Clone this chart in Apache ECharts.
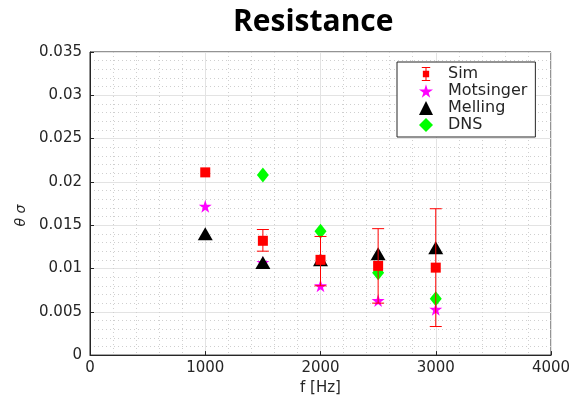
<!DOCTYPE html>
<html>
<head>
<meta charset="utf-8">
<script src="https://cdn.jsdelivr.net/npm/echarts@6/dist/echarts.min.js"></script>
<style>
  html, body { margin: 0; padding: 0; background: #fff; }
  #main { width: 574px; height: 401px; }
</style>
</head>
<body>
<div id="main"></div>
<script>
// data
var freq = [1000, 1500, 2000, 2500, 3000];
var simVals = [0.0211, 0.0132, 0.0110, 0.0103, 0.0101];
var simLow = [0.0211, 0.0120, 0.0080, 0.0060, 0.0033];
var simHigh = [0.0211, 0.0145, 0.0137, 0.0146, 0.0169];
var motsVals = [0.0172, 0.0107, 0.0080, 0.0063, 0.0053];
var mellVals = [0.0140, 0.0107, 0.0110, 0.0117, 0.0124];
var dnsVals = [null, 0.0208, 0.0143, 0.0095, 0.0065];

var starPath = 'path://M50,0 L61,35 L98,35 L68,57 L79,91 L50,70 L21,91 L32,57 L2,35 L39,35 Z';
var simIcon = 'path://M0,0 h12 v1.5 h-12 Z M5.25,0 h1.5 v20 h-1.5 Z M0,18.5 h12 v1.5 h-12 Z M1.5,5.5 h9 v9 h-9 Z';
var font = 'DejaVu Sans';
var axisColor = '#262626';

function pairs(vals) {
  let out = []
  vals.forEach((v, i) => {
    if (v != null) out.push([freq[i], v])
  })
  return out
}

// error bars
let errData = freq.map((f, i) => [f, simLow[i], simHigh[i]]);

function renderErr(params, api) {
  let x = api.value(0)
  let lo = api.coord([x, api.value(1)])
  let hi = api.coord([x, api.value(2)])
  if (Math.abs(hi[1] - lo[1]) < 1) return null
  let w = 6
  let st = { stroke: '#ff0000', lineWidth: 1 }
  return {
    type: 'group',
    children: [
      { type: 'line', shape: { x1: lo[0], y1: lo[1], x2: hi[0], y2: hi[1] }, style: st },
      { type: 'line', shape: { x1: lo[0] - w, y1: lo[1], x2: lo[0] + w, y2: lo[1] }, style: st },
      { type: 'line', shape: { x1: hi[0] - w, y1: hi[1], x2: hi[0] + w, y2: hi[1] }, style: st }
    ]
  }
}

var chart = echarts.init(document.getElementById('main'), null, { renderer: 'canvas' });

var option = {
  animation: false,
  backgroundColor: '#fff',
  title: {
    text: 'Resistance',
    left: 228,
    top: 2,
    textStyle: { fontFamily: 'Open Sans', fontWeight: 'bold', fontSize: 30, color: '#000' }
  },
  grid: {
    left: 90, right: 23, top: 52, bottom: 42,
    show: true, borderColor: axisColor, borderWidth: 1, backgroundColor: '#fff'
  },
  legend: {
    orient: 'vertical',
    left: 397, top: 62,
    width: 140,
    padding: [4, 8, 4, 22],
    itemGap: 1,
    itemWidth: 14, itemHeight: 14,
    borderColor: axisColor, borderWidth: 1,
    backgroundColor: '#fff',
    textStyle: { fontFamily: font, fontSize: 16, color: axisColor, padding: [0, 0, 0, 10] },
    data: [
      { name: 'Sim', icon: simIcon, itemStyle: { color: '#ff0000' } },
      { name: 'Motsinger', icon: starPath },
      { name: 'Melling', icon: 'triangle' },
      { name: 'DNS', icon: 'diamond' }
    ]
  },
  xAxis: {
    type: 'value',
    min: 0, max: 4000, interval: 1000,
    name: 'f [Hz]',
    nameLocation: 'middle',
    nameGap: 25,
    nameTextStyle: { fontFamily: font, fontSize: 15, color: axisColor },
    axisLine: { onZero: false, lineStyle: { color: axisColor } },
    axisTick: { inside: true, length: 4, lineStyle: { color: axisColor } },
    axisLabel: { fontFamily: font, fontSize: 15, color: axisColor, margin: 6, formatter: v => String(v) },
    splitLine: { show: true, lineStyle: { color: '#e3e3e3', width: 1 } },
    minorTick: { show: false, splitNumber: 5 },
    minorSplitLine: { show: true, lineStyle: { color: '#cfcfcf', type: [1, 3], width: 1 } }
  },
  yAxis: {
    type: 'value',
    min: 0, max: 0.035, interval: 0.005,
    name: 'θ σ',
    nameLocation: 'middle',
    nameGap: 50,
    nameRotate: 90,
    nameTextStyle: { fontFamily: font, fontStyle: 'italic', fontSize: 14, color: axisColor, padding: [0, 24, 0, 0] },
    axisLine: { onZero: false, lineStyle: { color: axisColor } },
    axisTick: { inside: true, length: 4, lineStyle: { color: axisColor } },
    axisLabel: {
      fontFamily: font, fontSize: 15, color: axisColor, margin: 8,
      formatter: v => String(parseFloat(v.toFixed(4)))
    },
    splitLine: { show: true, lineStyle: { color: '#e3e3e3', width: 1 } },
    minorTick: { show: false, splitNumber: 5 },
    minorSplitLine: { show: true, lineStyle: { color: '#cfcfcf', type: [1, 3], width: 1 } }
  },
  series: [
    {
      name: 'Motsinger',
      type: 'scatter',
      symbol: starPath,
      symbolSize: 13,
      itemStyle: { color: '#ff00ff', opacity: 1 },
      data: pairs(motsVals),
      z: 3
    },
    {
      name: 'Melling',
      type: 'scatter',
      symbol: 'triangle',
      symbolSize: [15, 13],
      itemStyle: { color: '#000', opacity: 1 },
      data: pairs(mellVals),
      z: 4
    },
    {
      name: 'DNS',
      type: 'scatter',
      symbol: 'diamond',
      symbolSize: [12, 15],
      itemStyle: { color: '#00ff00', opacity: 1 },
      data: pairs(dnsVals),
      z: 4
    },
    {
      name: 'Sim',
      type: 'custom',
      renderItem: renderErr,
      data: errData,
      encode: { x: 0, y: [1, 2] },
      itemStyle: { color: '#ff0000' },
      z: 5,
      silent: true
    },
    {
      name: 'Sim',
      type: 'scatter',
      symbol: 'rect',
      symbolSize: 10,
      itemStyle: { color: '#ff0000', opacity: 1 },
      data: pairs(simVals),
      z: 6
    }
  ]
};
chart.setOption(option);
</script>
</body>
</html>
